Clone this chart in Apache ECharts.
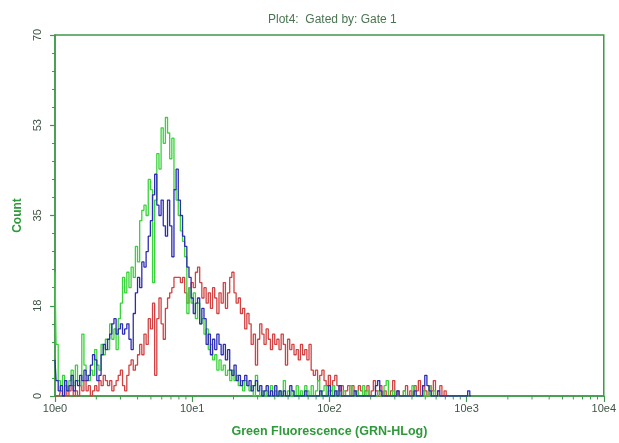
<!DOCTYPE html>
<html><head><meta charset="utf-8">
<script src="https://cdn.jsdelivr.net/npm/echarts@6/dist/echarts.min.js"></script>
<style>html,body{margin:0;padding:0;background:#fff}#c{width:619px;height:443px}</style>
</head><body><div id="c"></div>
<script>
const titleText = 'Plot4:  Gated by: Gate 1';
const xName = 'Green Fluorescence (GRN-HLog)';
const yName = 'Count';
const channelsPerDecade = 64;          // HLog: 256 channels over 4 decades
const yTickValues = [0, 17.5, 35, 52.5, 70];
const xMinorTicks = [2,3,4,5,6,7,8,9, 20,30,40,50,60,70,80,90, 200,300,400,500,600,700,800,900, 2000,3000,4000,5000,6000,7000,8000,9000];

// counts per channel (index = channel number)
const green = [
24,10,3,1,4,2,1,3,5,2, 6,3,2,12,6,4,3,5,4,9, 6,5,10,8,11,9,14,11,13,9,
15,18,23,20,24,21,25,23,29,26, 34,36,37,35,42,40,22,38,47,44, 52,49,54,51,46,50,40,38,35,32,
30,27,16,21,18,20,15,18,14,15, 12,13,9,10,7,8,5,7,5,6, 4,5,3,5,3,4,2,3,1,3,
2,1,2,0,4,1,0,1,0,1, 0,2,0,1,0,1,0,3,0,1, 0,1,0,2,0,1,0,2,1,0,
2,0,1,3,0,1,2,0,1,0, 2,0,1,0,0,1,0,0,2,0, 0,1,0,0,2,0,1,0,0,0,
0,1,0,0,2,3,0,0,1,0, 0,0,0,1,0,0,0,2,0,0, 0,0,1,0,0,2,0,1,0
];
const blue = [
7,3,1,2,0,3,1,2,4,1, 3,2,4,3,5,3,4,6,8,7, 3,4,8,10,9,11,12,14,15,12,
13,14,12,13,14,11,9,16,20,23, 21,26,25,28,31,34,39,43,37,35, 38,33,31,38,33,27,40,44,38,35,
31,29,25,23,19,16,18,19,14,17, 15,10,12,8,11,9,12,10,8,10, 7,9,5,4,6,3,4,2,3,4,
2,3,1,2,3,1,2,0,1,2, 0,1,0,2,0,1,0,1,0,0, 2,1,0,0,0,0,0,1,0,0,
0,0,0,0,1,0,0,0,2,0, 0,1,0,2,0,0,0,0,0,0, 1,0,0,0,0,0,0,0,0,0,
2,3,1,0,0,0,0,0,0,0, 1,0,0,0,0,0,0,0,1,0, 0,0,2,4,2,1,0,0,0,1,
0,0,0,0,0,0,0,0,0,0, 0,0,0,1,0
];
const red = [
0,0,0,1,0,2,0,1,2,0, 1,0,2,1,3,1,2,0,1,2, 1,3,2,4,3,2,3,1,2,3,
4,5,2,1,4,6,7,5,6,8, 10,8,12,10,15,13,18,4,15,19, 14,11,17,19,20,21,23,23,23,22,
23,20,18,21,22,21,24,25,22,19, 21,18,20,17,21,19,16,20,18,22, 17,20,23,24,20,18,19,16,17,13,
16,14,10,12,6,11,14,12,10,13, 11,9,12,10,11,9,12,10,6,11, 9,10,8,9,7,10,8,9,7,10,
5,4,5,3,4,5,3,2,4,1, 3,4,2,1,2,0,1,2,0,2, 1,0,2,1,0,1,2,0,1,3,
1,0,2,0,1,0,0,1,3,0, 1,0,0,1,2,0,1,0,2,1, 3,0,2,1,0,2,1,3,0,1,
2,0,1,0
];

const axisColor = '#3f9a48';
const nameColor = '#2f9a3a';
const labelColor = '#3e5444';
const toXY = arr => arr.map((v, i) => [Math.pow(10, i / channelsPerDecade), v]);

const chart = echarts.init(document.getElementById('c'), null, {renderer: 'canvas'});
const lineSeries = (name, arr, color) => ({
  name, type: 'line', step: 'middle', data: toXY(arr), showSymbol: false, symbol: 'none',
  lineStyle: {color, width: 1.3}, itemStyle: {color}, animation: false, silent: true
});

chart.setOption({
  animation: false,
  backgroundColor: '#ffffff',
  title: {
    text: titleText, left: 263, top: 9,
    textStyle: {fontFamily: 'Liberation Sans, Arial', fontSize: 12, fontWeight: 'normal', color: '#4a7551'}
  },
  grid: {left: 55, right: 11, top: 35, bottom: 45, show: true, borderColor: axisColor, borderWidth: 1.5, backgroundColor: 'transparent'},
  xAxis: {
    type: 'log', logBase: 10, min: 1, max: 10000,
    name: xName, nameLocation: 'middle', nameGap: 29,
    nameTextStyle: {fontFamily: 'Liberation Sans, Arial', fontSize: 12.5, fontWeight: 'bold', color: nameColor},
    axisLine: {lineStyle: {color: axisColor, width: 1.5}},
    axisTick: {show: true, length: 6, lineStyle: {color: axisColor, width: 1.2}},
    splitLine: {show: false},
    axisLabel: {margin: 7, fontFamily: 'Liberation Sans, Arial', fontSize: 11, color: labelColor,
      formatter: v => '10e' + Math.round(Math.log10(v))}
  },
  yAxis: {
    type: 'value', min: 0, max: 70, interval: 17.5,
    name: yName, nameLocation: 'middle', nameGap: 25, nameRotate: 90,
    nameTextStyle: {fontFamily: 'Liberation Sans, Arial', fontSize: 12, fontWeight: 'bold', color: nameColor},
    axisLine: {show: true, lineStyle: {color: axisColor, width: 1.5}},
    axisTick: {show: true, length: 5, lineStyle: {color: axisColor, width: 1.2}},
    minorTick: {show: true, splitNumber: 5, length: 3, lineStyle: {color: axisColor, width: 1}},
    splitLine: {show: false},
    axisLabel: {rotate: 90, margin: 12, fontFamily: 'Liberation Sans, Arial', fontSize: 11, color: labelColor,
      formatter: v => String(Math.round(v))}
  },
  series: [
    lineSeries('red', red, '#d24141'),
    lineSeries('green', green, '#3ad23a'),
    lineSeries('blue', blue, '#2c2cb4'),
    {
      type: 'custom', silent: true, clip: false, data: xMinorTicks.map(v => [v, 0]),
      renderItem: (params, api) => {
        const p = api.coord([api.value(0), 0]);
        return {type: 'line', shape: {x1: p[0], y1: p[1], x2: p[0], y2: p[1] + 3.5},
          style: {stroke: axisColor, lineWidth: 1}};
      }
    }
  ]
});
</script>
</body></html>
